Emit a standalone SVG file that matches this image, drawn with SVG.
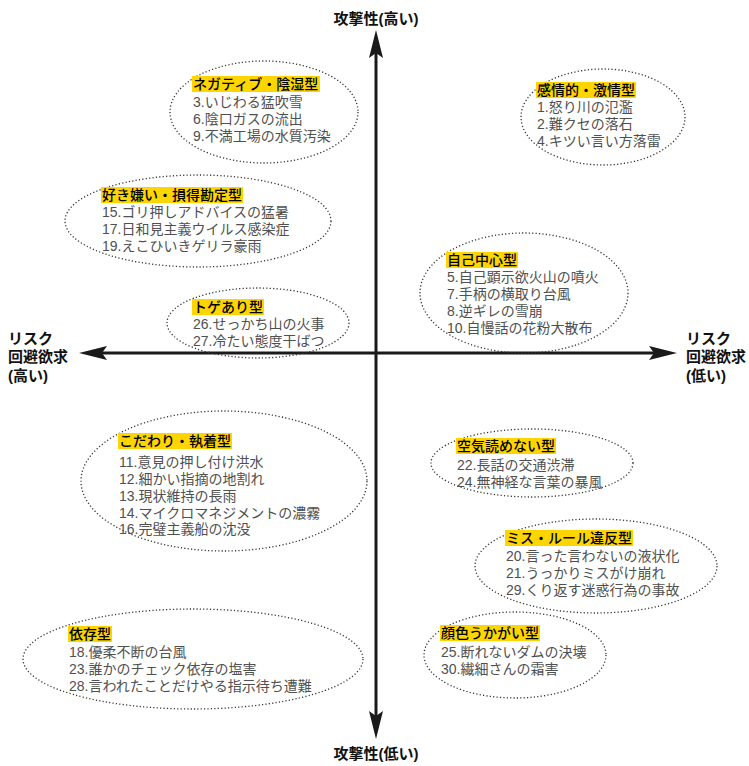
<svg xmlns="http://www.w3.org/2000/svg" width="749" height="766" viewBox="0 0 749 766">
<style>
.el{fill:none;stroke:#333;stroke-width:1.3;stroke-dasharray:1.2 2.2}
.hl{fill:#FFD500}
.t{font-family:"Liberation Sans","Noto Sans CJK JP",sans-serif;font-size:14px;font-weight:500;fill:#000}
.i{font-family:"Liberation Sans","Noto Sans CJK JP",sans-serif;font-size:14px;fill:#505050}
.ax{font-family:"Liberation Sans","Noto Sans CJK JP",sans-serif;font-size:15px;font-weight:bold;fill:#111}
.ln{stroke:#1a1a1a;stroke-width:3;fill:none}
.ah{fill:#1a1a1a}
</style>
<rect width="749" height="766" fill="#fff"/>
<g id="connectors">
<line class="ln" x1="376" y1="50" x2="376" y2="718"/>
<line class="ln" x1="100" y1="353" x2="656" y2="353"/>
<polygon class="ah" points="376,30 383,58 376,53 369,58"/>
<polygon class="ah" points="376,739 383,711 376,716 369,711"/>
<polygon class="ah" points="79,353 107,346 102,353 107,360"/>
<polygon class="ah" points="677,353 649,346 654,353 649,360"/>
</g>
<g id="axis-top"><text class="ax" x="376" y="24" text-anchor="middle">攻撃性(高い)</text></g>
<g id="axis-bottom"><text class="ax" x="376" y="759" text-anchor="middle">攻撃性(低い)</text></g>
<g id="axis-left"><text class="ax" x="8" y="344">リスク</text><text class="ax" x="8" y="362">回避欲求</text><text class="ax" x="8" y="381">(高い)</text></g>
<g id="axis-right"><text class="ax" x="686" y="344">リスク</text><text class="ax" x="686" y="362">回避欲求</text><text class="ax" x="686" y="381">(低い)</text></g>

<g id="n1">
<ellipse class="el" cx="264" cy="112" rx="94" ry="51"/>
<rect class="hl" x="192" y="76" width="128" height="16"/>
<text class="t" x="193" y="89">ネガティブ・陰湿型</text>
<text class="i" x="193" y="107">3.いじわる猛吹雪</text>
<text class="i" x="193" y="124">6.陰口ガスの流出</text>
<text class="i" x="193" y="141">9.不満工場の水質汚染</text>
</g>
<g id="n2">
<ellipse class="el" cx="603" cy="117" rx="82" ry="48"/>
<rect class="hl" x="536" y="82" width="100" height="16"/>
<text class="t" x="537" y="95">感情的・激情型</text>
<text class="i" x="537" y="112">1.怒り川の氾濫</text>
<text class="i" x="537" y="129">2.難クセの落石</text>
<text class="i" x="537" y="146">4.キツい言い方落雷</text>
</g>
<g id="n3">
<ellipse class="el" cx="198" cy="221" rx="133" ry="46"/>
<rect class="hl" x="101" y="187" width="142" height="16"/>
<text class="t" x="102" y="200">好き嫌い・損得勘定型</text>
<text class="i" x="102" y="217">15.ゴリ押しアドバイスの猛暑</text>
<text class="i" x="102" y="234">17.日和見主義ウイルス感染症</text>
<text class="i" x="102" y="251">19.えこひいきゲリラ豪雨</text>
</g>
<g id="n4">
<ellipse class="el" cx="258" cy="323" rx="91" ry="35"/>
<rect class="hl" x="192" y="299" width="72" height="16"/>
<text class="t" x="193" y="312">トゲあり型</text>
<text class="i" x="193" y="329">26.せっかち山の火事</text>
<text class="i" x="193" y="346">27.冷たい態度干ばつ</text>
</g>
<g id="n5">
<ellipse class="el" cx="524" cy="293" rx="104" ry="60"/>
<rect class="hl" x="446" y="252" width="72" height="16"/>
<text class="t" x="447" y="265">自己中心型</text>
<text class="i" x="447" y="282">5.自己顕示欲火山の噴火</text>
<text class="i" x="447" y="299">7.手柄の横取り台風</text>
<text class="i" x="447" y="316">8.逆ギレの雪崩</text>
<text class="i" x="447" y="333">10.自慢話の花粉大散布</text>
</g>
<g id="n6">
<ellipse class="el" cx="224" cy="481" rx="143" ry="70"/>
<rect class="hl" x="118" y="433" width="114" height="16"/>
<text class="t" x="119" y="446">こだわり・執着型</text>
<text class="i" x="119" y="467">11.意見の押し付け洪水</text>
<text class="i" x="119" y="484">12.細かい指摘の地割れ</text>
<text class="i" x="119" y="501">13.現状維持の長雨</text>
<text class="i" x="119" y="518">14.マイクロマネジメントの濃霧</text>
<text class="i" x="119" y="534">16.完璧主義船の沈没</text>
</g>
<g id="n7">
<ellipse class="el" cx="532" cy="463" rx="101" ry="34"/>
<rect class="hl" x="456" y="438" width="100" height="16"/>
<text class="t" x="457" y="451">空気読めない型</text>
<text class="i" x="457" y="470">22.長話の交通渋滞</text>
<text class="i" x="457" y="487">24.無神経な言葉の暴風</text>
</g>
<g id="n8">
<ellipse class="el" cx="596" cy="566" rx="121" ry="47"/>
<rect class="hl" x="505" y="530" width="128" height="16"/>
<text class="t" x="506" y="543">ミス・ルール違反型</text>
<text class="i" x="506" y="561">20.言った言わないの液状化</text>
<text class="i" x="506" y="578">21.うっかりミスがけ崩れ</text>
<text class="i" x="506" y="595">29.くり返す迷惑行為の事故</text>
</g>
<g id="n9">
<ellipse class="el" cx="193" cy="659" rx="170" ry="50"/>
<rect class="hl" x="68" y="626" width="44" height="16"/>
<text class="t" x="69" y="639">依存型</text>
<text class="i" x="69" y="657">18.優柔不断の台風</text>
<text class="i" x="69" y="674">23.誰かのチェック依存の塩害</text>
<text class="i" x="69" y="691">28.言われたことだけやる指示待ち遭難</text>
</g>
<g id="n10">
<ellipse class="el" cx="515" cy="655" rx="91" ry="43"/>
<rect class="hl" x="440" y="625" width="100" height="16"/>
<text class="t" x="441" y="638">顔色うかがい型</text>
<text class="i" x="441" y="657">25.断れないダムの決壊</text>
<text class="i" x="441" y="674">30.繊細さんの霜害</text>
</g>
</svg>
